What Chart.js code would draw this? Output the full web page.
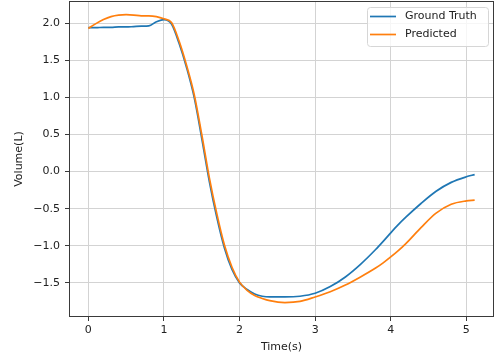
<!DOCTYPE html>
<html>
<head>
<meta charset="utf-8">
<script src="https://cdn.jsdelivr.net/npm/chart.js@4"></script>
<style>
  html, body { margin: 0; padding: 0; background: #fff; }
  #wrap { width: 495px; height: 360px; }
</style>
</head>
<body>
<div id="wrap"><canvas id="volumeChart" width="495" height="360"></canvas></div>
<script>
var time = [0, 0.1, 0.2, 0.3, 0.4, 0.5, 0.6, 0.7, 0.8, 0.9, 1.0, 1.1, 1.2, 1.3, 1.4, 1.5, 1.6, 1.7, 1.8, 1.9,
            2.0, 2.1, 2.2, 2.3, 2.4, 2.6, 2.8, 3.0, 3.2, 3.4, 3.6, 3.8, 3.9, 4.0, 4.1, 4.2, 4.4, 4.6, 4.8, 5.0, 5.11];
var groundTruth = [1.94, 1.94, 1.945, 1.945, 1.95, 1.95, 1.955, 1.96, 1.965, 2.02, 2.05, 1.99, 1.73, 1.40, 1.00, 0.45, -0.13, -0.62, -1.03, -1.32,
                   -1.50, -1.59, -1.65, -1.68, -1.69, -1.69, -1.68, -1.64, -1.55, -1.42, -1.25, -1.05, -0.94, -0.825, -0.715, -0.615, -0.43, -0.265, -0.145, -0.07, -0.04];
var predicted = [1.93, 1.995, 2.05, 2.09, 2.11, 2.115, 2.11, 2.10, 2.10, 2.09, 2.06, 2.01, 1.76, 1.43, 1.04, 0.50, -0.08, -0.57, -0.99, -1.29,
                 -1.49, -1.60, -1.67, -1.71, -1.74, -1.765, -1.75, -1.69, -1.62, -1.53, -1.42, -1.30, -1.23, -1.15, -1.065, -0.97, -0.755, -0.56, -0.44, -0.395, -0.385];
var seriesNames = ['Ground Truth', 'Predicted'];
var seriesColors = ['#1f77b4', '#ff7f0e'];
var xTickValues = [0, 1, 2, 3, 4, 5];
var yTickValues = [-1.5, -1.0, -0.5, 0.0, 0.5, 1.0, 1.5, 2.0];

function toPoints(ys) {
    return time.map(function (t, i) { return { x: t, y: ys[i] }; });
}

var FONT = { family: 'DejaVu Sans', size: 11 };
var GRID = '#d3d3d3';

// matplotlib-like frame and legend
var framePlugin = {
    id: 'frame',
    afterDraw: function (chart) {
        var ctx = chart.ctx, a = chart.chartArea;
        ctx.save();
        ctx.strokeStyle = '#3a3a3a';
        ctx.lineWidth = 1;
        ctx.strokeRect(a.left + 0.5, a.top + 0.5, a.right - a.left - 1, a.bottom - a.top - 1);

        var w = 121, h = 39;
        var bx = a.right - 6 - w, by = a.top + 6;
        ctx.beginPath();
        ctx.roundRect(bx + 0.5, by + 0.5, w, h, 3);
        ctx.fillStyle = 'rgba(255,255,255,0.8)';
        ctx.fill();
        ctx.strokeStyle = '#d6d6d6';
        ctx.stroke();

        ctx.font = '11px "DejaVu Sans"';
        ctx.textBaseline = 'middle';
        ctx.textAlign = 'left';
        for (var i = 0; i < seriesNames.length; i++) {
            var y = by + 9.5 + i * 18;
            ctx.beginPath();
            ctx.moveTo(bx + 3, y);
            ctx.lineTo(bx + 29, y);
            ctx.strokeStyle = seriesColors[i];
            ctx.lineWidth = 1.7;
            ctx.stroke();
            ctx.fillStyle = '#222';
            ctx.fillText(seriesNames[i], bx + 38, y);
        }
        ctx.restore();
    }
};

var ctx1 = document.getElementById('volumeChart').getContext('2d');
var volumeChart = new Chart(ctx1, {
    type: 'line',
    data: {
        datasets: [{
            label: seriesNames[0],
            data: toPoints(groundTruth),
            borderColor: seriesColors[0],
            borderWidth: 1.7,
            pointRadius: 0,
            fill: false,
            cubicInterpolationMode: 'monotone',
            order: 1
        }, {
            label: seriesNames[1],
            data: toPoints(predicted),
            borderColor: seriesColors[1],
            borderWidth: 1.7,
            pointRadius: 0,
            fill: false,
            cubicInterpolationMode: 'monotone',
            order: 0
        }]
    },
    options: {
        responsive: false,
        animation: false,
        layout: { padding: { top: 1, right: 1, left: 0, bottom: 0 } },
        plugins: { legend: { display: false }, tooltip: { enabled: false } },
        scales: {
            x: {
                type: 'linear',
                min: -0.256,
                max: 5.366,
                afterFit: function (s) { s.height = 43; s.paddingLeft = 0; s.paddingRight = 0; },
                afterBuildTicks: function (s) { s.ticks = xTickValues.map(function (v) { return { value: v }; }); },
                ticks: {
                    font: FONT, color: '#222', padding: 3,
                    callback: function (v) { return String(v); }
                },
                grid: { color: GRID, lineWidth: 1, tickColor: '#3a3a3a', tickLength: 4 },
                border: { display: false },
                title: { display: true, text: 'Time(s)', font: FONT, color: '#222', padding: { top: 0, bottom: 6 } }
            },
            y: {
                type: 'linear',
                min: -1.96,
                max: 2.30,
                afterFit: function (s) { s.width = 69; s.paddingTop = 0; s.paddingBottom = 0; },
                afterBuildTicks: function (s) { s.ticks = yTickValues.map(function (v) { return { value: v }; }); },
                ticks: {
                    font: FONT, color: '#222', padding: 5,
                    callback: function (v) { return v.toFixed(1).replace('-', '\u2212'); }
                },
                grid: { color: GRID, lineWidth: 1, tickColor: '#3a3a3a', tickLength: 4 },
                border: { display: false },
                title: { display: true, text: 'Volume(L)', font: FONT, color: '#222', padding: { top: 13, bottom: 0 } }
            }
        }
    },
    plugins: [framePlugin]
});
</script>
</body>
</html>
